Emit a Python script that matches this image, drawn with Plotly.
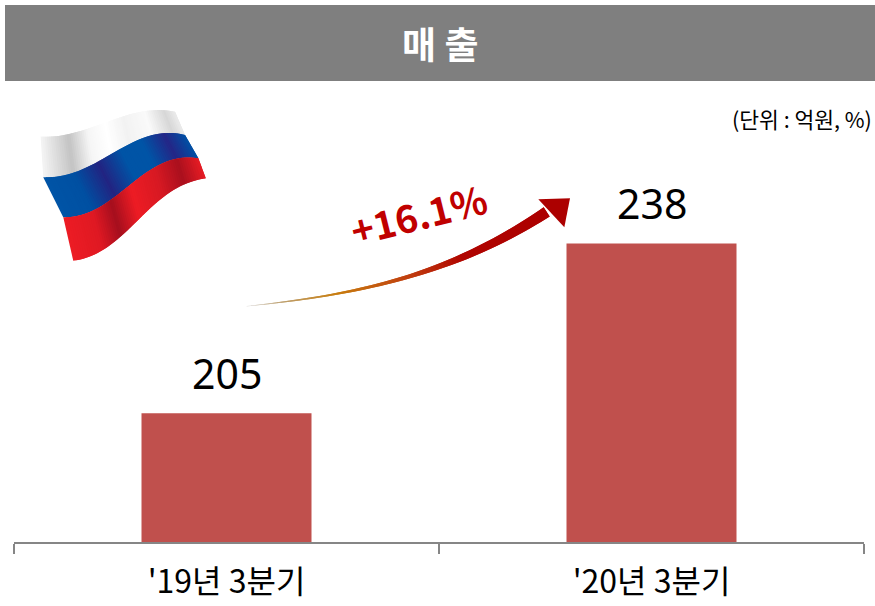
import numpy as np
import plotly.graph_objects as go

W, H = 875, 606
categories = ["'19년 3분기", "'20년 3분기"]
values = [205, 238]
bar_labels = ["205", "238"]
title_text = "매 출"
unit_text = "(단위 : 억원, %)"
growth_text = "+16.1%"

FONT = "Noto Sans CJK KR"
BAR = "#c0504d"
AX = "#868686"

def X(x): return x / W
def Y(y): return 1 - y / H
def path(pts):
    return "M" + "L".join(f"{X(a):.5f},{Y(b):.5f}" for a, b in pts) + "Z"
def mix(stops, t):
    ts = [s[0] for s in stops]
    r = np.interp(t, ts, [s[1][0] for s in stops])
    g = np.interp(t, ts, [s[1][1] for s in stops])
    b = np.interp(t, ts, [s[1][2] for s in stops])
    return f"rgb({r:.0f},{g:.0f},{b:.0f})"

shapes = [dict(type="rect", xref="paper", yref="paper", x0=X(5), x1=X(875), y0=Y(81), y1=Y(5),
               fillcolor="#7f7f7f", line_width=0, layer="below")]

# --- decorative flag (zoom-crop key points, converted to page pixels)
def conv(p): return np.array([(a / 3 + 20, b / 3 + 90) for a, b in p])
e0 = conv([(62,140),(150,130),(230,110),(320,72),(380,65),(465,65)])
e1 = conv([(70,262),(150,250),(220,225),(300,175),(390,138),(495,135)])
e2 = conv([(130,382),(210,365),(280,325),(360,260),(440,215),(535,205)])
e3 = conv([(160,512),(220,495),(290,450),(360,385),(430,320),(490,285),(557,265)])
def resample(e, n):
    s = np.r_[0, np.cumsum(np.hypot(*np.diff(e, axis=0).T))]
    u = np.linspace(0, s[-1], n)
    t = s / s[-1]
    v = u / s[-1]
    return np.c_[np.polyval(np.polyfit(t, e[:, 0], 4), v), np.polyval(np.polyfit(t, e[:, 1], 4), v)]
N = 70
E = [resample(e, N + 1) for e in (e0, e1, e2, e3)]
white = [(0,(245,245,245)),(.08,(225,225,225)),(.2,(195,195,195)),(.34,(245,245,245)),(.48,(255,255,255)),(.62,(242,242,242)),(.78,(250,250,250)),(.92,(215,215,215)),(1,(235,235,235))]
blue = [(0,(0,84,166)),(.2,(0,80,162)),(.38,(34,36,130)),(.55,(0,84,166)),(.7,(0,84,166)),(.86,(36,38,135)),(1,(0,80,165))]
red = [(0,(237,28,36)),(.2,(222,25,35)),(.34,(165,15,30)),(.5,(237,28,36)),(.7,(215,25,35)),(.86,(170,16,30)),(1,(230,28,36))]
for band, st in enumerate((white, blue, red)):
    a, b = E[band], E[band + 1]
    for i in range(N):
        pts = [a[i], a[min(i + 2, N)], b[min(i + 2, N)], b[i]]
        shapes.append(dict(type="path", xref="paper", yref="paper", path=path(pts),
                           fillcolor=mix(st, (i + .5) / N), line_width=0, layer="above"))

# --- decorative growth arrow
cx = np.array([50,200,350,500,650,800,950]) / 3 + 230
cy = np.array([408,392,365,330,280,215,125]) / 3 + 170
M = 70
ax_x = np.linspace(cx[0], cx[-1], M + 1)
ax_y = np.polyval(np.polyfit(cx, cy, 3), ax_x)
tt = np.linspace(0, 1, M + 1)
hw = np.interp(tt, [0,.3,.55,.8,1], [.2,1.0,2.0,4.0,5.5])
dx, dy = np.gradient(ax_x), np.gradient(ax_y)
L = np.hypot(dx, dy)
nx, ny = -dy / L, dx / L
arrow_col = [(0,(225,225,225)),(.12,(190,160,110)),(.3,(200,125,15)),(.55,(192,60,15)),(.72,(176,5,0)),(1,(172,0,0))]
for i in range(M):
    j = min(i + 2, M)
    pts = [(ax_x[i]+nx[i]*hw[i], ax_y[i]+ny[i]*hw[i]), (ax_x[j]+nx[j]*hw[j], ax_y[j]+ny[j]*hw[j]),
           (ax_x[j]-nx[j]*hw[j], ax_y[j]-ny[j]*hw[j]), (ax_x[i]-nx[i]*hw[i], ax_y[i]-ny[i]*hw[i])]
    shapes.append(dict(type="path", xref="paper", yref="paper", path=path(pts),
                       fillcolor=mix(arrow_col, (i + .5) / M), line_width=0, layer="above"))
head = [(1020/3+230, 85/3+170), (925/3+230, 88/3+170), (1003/3+230, 172/3+170)]
shapes.append(dict(type="path", xref="paper", yref="paper", path=path(head),
                   fillcolor="#ac0000", line_width=0, layer="above"))

fig = go.Figure(go.Bar(
    x=categories, y=values, cliponaxis=False,
    width=0.4, marker=dict(color=BAR, line_width=0), hoverinfo="skip"))

value_notes = [dict(text=t, x=c, y=v, xref="x", yref="y", showarrow=False, xanchor="center",
                    yanchor="bottom", yshift=10,
                    font=dict(family="Noto Sans", size=41, color="#000000"))
               for t, c, v in zip(bar_labels, categories, values)]

fig.update_layout(
    width=W, height=H, autosize=False, showlegend=False,
    margin=dict(l=0, r=0, t=0, b=0, autoexpand=False), paper_bgcolor="white", plot_bgcolor="white",
    shapes=shapes,
    xaxis=dict(domain=[X(14), X(864)], type="category", tickson="boundaries", ticks="outside",
               ticklen=10, tickwidth=2, tickcolor=AX, showline=True, linecolor=AX, linewidth=2,
               showgrid=False, ticklabelstandoff=11, automargin=False,
               tickfont=dict(family=FONT, size=32, color="#000000")),
    yaxis=dict(domain=[Y(542), Y(90)], range=[180, 267.8], visible=False),
    annotations=value_notes + [
        dict(text=title_text, xref="paper", yref="paper", x=X(440), y=Y(43), showarrow=False,
             xanchor="center", yanchor="middle",
             font=dict(family=FONT, size=37, color="white", weight="bold")),
        dict(text=unit_text, xref="paper", yref="paper", x=X(874), y=Y(118), xanchor="right",
             yanchor="middle", showarrow=False, font=dict(family=FONT, size=21.5, color="#000000")),
        dict(text=growth_text, xref="paper", yref="paper", x=X(418), y=Y(213), showarrow=False,
             xanchor="center", yanchor="middle", textangle=-14,
             font=dict(family=FONT, size=38, color="#c00000", weight="bold")),
    ],
)
fig.write_html("out.html", config=dict(displayModeBar=False),
               post_script="document.body.style.margin='0';")
